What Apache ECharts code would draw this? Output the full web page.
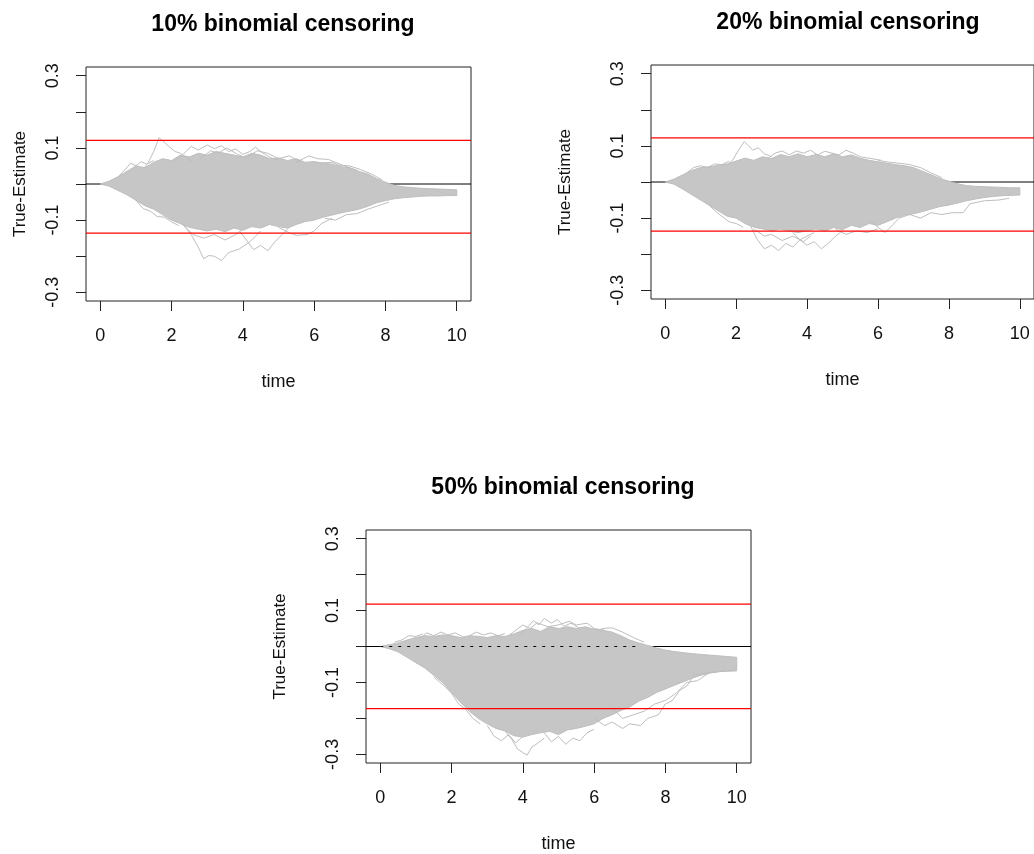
<!DOCTYPE html>
<html>
<head>
<meta charset="utf-8">
<script src="https://cdn.jsdelivr.net/npm/echarts@6/dist/echarts.min.js"></script>
<style>
  html, body { margin: 0; padding: 0; background: #fff; }
  #chart { width: 1034px; height: 854px; }
</style>
</head>
<body>
<div id="chart"></div>
<script>
// time grid the envelopes were read on
const envTime = [0, 0.25, 0.5, 0.75, 1, 1.25, 1.5, 1.75, 2, 2.25, 2.5, 2.75, 3, 3.25, 3.5, 3.75, 4, 4.25, 4.5, 4.75,
  5, 5.25, 5.5, 5.75, 6, 6.25, 6.5, 6.75, 7, 7.25, 7.5, 7.75, 8, 8.25, 8.5, 8.75, 9, 9.25, 9.5, 9.75, 10];

// 10% censoring: outer edge of the grey mass
const p1Upper = [0, 0.008, 0.02, 0.035, 0.05, 0.045, 0.06, 0.07, 0.065, 0.08, 0.075, 0.085, 0.08, 0.09, 0.085, 0.08, 0.075, 0.085, 0.08, 0.07,
  0.072, 0.065, 0.07, 0.06, 0.062, 0.058, 0.055, 0.048, 0.045, 0.035, 0.028, 0.015, 0.005, -0.004, -0.008, -0.01, -0.012, -0.013, -0.014, -0.015, -0.016];
const p1Lower = [0, -0.006, -0.018, -0.03, -0.045, -0.06, -0.07, -0.085, -0.1, -0.11, -0.12, -0.125, -0.13, -0.125, -0.132, -0.122, -0.128, -0.118, -0.122, -0.112,
  -0.118, -0.122, -0.112, -0.104, -0.1, -0.092, -0.086, -0.08, -0.075, -0.07, -0.062, -0.052, -0.046, -0.041, -0.038, -0.036, -0.034, -0.033, -0.033, -0.032, -0.032];
// single paths that stray out of the mass
const p1Strays = [
  [[1.2, 0.04], [1.35, 0.06], [1.5, 0.09], [1.65, 0.128], [1.8, 0.115], [1.97, 0.1], [2.1, 0.09], [2.25, 0.085], [2.45, 0.07], [2.6, 0.062]],
  [[2.0, 0.06], [2.3, 0.08], [2.55, 0.104], [2.75, 0.094], [3.0, 0.108], [3.2, 0.098], [3.4, 0.106], [3.6, 0.09], [3.8, 0.097], [4.0, 0.082], [4.2, 0.09], [4.35, 0.102], [4.55, 0.086], [4.8, 0.072], [5.0, 0.065]],
  [[2.8, 0.07], [3.1, 0.092], [3.3, 0.085], [3.55, 0.1], [3.85, 0.082], [4.1, 0.072], [4.4, 0.092], [4.7, 0.085], [5.0, 0.07], [5.3, 0.078], [5.6, 0.062]],
  [[5.5, 0.06], [5.85, 0.078], [6.1, 0.07], [6.4, 0.068], [6.8, 0.052], [7.2, 0.038]],
  [[0.5, 0.02], [0.7, 0.04], [0.85, 0.058], [1.0, 0.05], [1.15, 0.062], [1.3, 0.055], [1.5, 0.065]],
  [[6.2, 0.058], [6.5, 0.06], [6.7, 0.052], [7.0, 0.05], [7.3, 0.04], [7.6, 0.028], [7.9, 0.012]],
  [[2.3, -0.11], [2.55, -0.14], [2.75, -0.175], [2.9, -0.207], [3.05, -0.198], [3.2, -0.2], [3.4, -0.212], [3.6, -0.19], [3.9, -0.18], [4.2, -0.16], [4.5, -0.13]],
  [[3.9, -0.13], [4.1, -0.155], [4.3, -0.182], [4.5, -0.17], [4.7, -0.185], [4.9, -0.16], [5.1, -0.14], [5.3, -0.12]],
  [[5.0, -0.12], [5.3, -0.135], [5.5, -0.142], [5.8, -0.14], [6.0, -0.13], [6.2, -0.11], [6.5, -0.095]],
  [[2.3, -0.11], [2.6, -0.14], [2.9, -0.15], [3.2, -0.14], [3.5, -0.155], [3.8, -0.14], [4.0, -0.125]],
  [[1.0, -0.045], [1.2, -0.068], [1.4, -0.075], [1.6, -0.09], [1.8, -0.092], [2.0, -0.105], [2.2, -0.115]],
  [[6.3, -0.095], [6.6, -0.1], [6.9, -0.085], [7.2, -0.082], [7.5, -0.07], [7.8, -0.06], [8.1, -0.05]]
];
const p1Ref = [0.121, -0.136];

// 20% censoring
const p2Upper = [0, 0.008, 0.02, 0.032, 0.04, 0.042, 0.046, 0.05, 0.058, 0.066, 0.06, 0.07, 0.065, 0.076, 0.07, 0.078, 0.07, 0.076, 0.07, 0.078,
  0.07, 0.075, 0.066, 0.06, 0.056, 0.052, 0.048, 0.045, 0.04, 0.03, 0.02, 0.01, 0.002, -0.005, -0.01, -0.012, -0.013, -0.014, -0.015, -0.016, -0.016];
const p2Lower = [0, -0.006, -0.02, -0.035, -0.05, -0.065, -0.08, -0.095, -0.1, -0.115, -0.125, -0.13, -0.135, -0.13, -0.136, -0.14, -0.135, -0.13, -0.136, -0.126,
  -0.132, -0.12, -0.126, -0.115, -0.12, -0.11, -0.1, -0.092, -0.088, -0.082, -0.075, -0.068, -0.064, -0.058, -0.052, -0.047, -0.043, -0.04, -0.038, -0.037, -0.036];
const p2Strays = [
  [[1.7, 0.045], [1.9, 0.06], [2.08, 0.09], [2.23, 0.112], [2.35, 0.1], [2.47, 0.088], [2.62, 0.095], [2.8, 0.078], [3.0, 0.07]],
  [[2.9, 0.065], [3.1, 0.08], [3.3, 0.086], [3.5, 0.075], [3.7, 0.086], [3.9, 0.08], [4.1, 0.088], [4.3, 0.075], [4.5, 0.085], [4.7, 0.08], [4.9, 0.075], [5.1, 0.088], [5.3, 0.08], [5.5, 0.07], [5.8, 0.065], [6.1, 0.06]],
  [[0.6, 0.025], [0.8, 0.04], [1.0, 0.045], [1.2, 0.04], [1.4, 0.05], [1.6, 0.048], [1.8, 0.058]],
  [[6.0, 0.06], [6.3, 0.055], [6.6, 0.052], [6.9, 0.048], [7.2, 0.04], [7.5, 0.025], [7.8, 0.012]],
  [[2.4, -0.12], [2.6, -0.16], [2.8, -0.185], [3.0, -0.175], [3.2, -0.19], [3.4, -0.17], [3.6, -0.18], [3.8, -0.16], [4.0, -0.15], [4.2, -0.14]],
  [[3.6, -0.14], [3.8, -0.16], [4.0, -0.175], [4.2, -0.165], [4.4, -0.185], [4.6, -0.17], [4.8, -0.15], [5.0, -0.135]],
  [[2.5, -0.13], [2.8, -0.15], [3.0, -0.145], [3.3, -0.162], [3.6, -0.15], [3.9, -0.165], [4.1, -0.15]],
  [[1.2, -0.06], [1.4, -0.08], [1.6, -0.095], [1.8, -0.11], [2.0, -0.115], [2.2, -0.125]],
  [[4.8, -0.13], [5.1, -0.145], [5.4, -0.135], [5.7, -0.14], [6.0, -0.13]],
  [[5.8, -0.11], [6.0, -0.125], [6.2, -0.14], [6.4, -0.12], [6.6, -0.1], [6.9, -0.09], [7.2, -0.1], [7.5, -0.085], [7.8, -0.09], [8.1, -0.085], [8.4, -0.085], [8.6, -0.06], [9.0, -0.052], [9.4, -0.05], [9.7, -0.045]]
];
const p2Ref = [0.122, -0.136];

// 50% censoring
const p3Upper = [0, 0.005, 0.01, 0.018, 0.025, 0.03, 0.028, 0.032, 0.03, 0.025, 0.03, 0.028, 0.025, 0.03, 0.028, 0.035, 0.045, 0.05, 0.042, 0.055,
  0.05, 0.055, 0.05, 0.055, 0.048, 0.045, 0.04, 0.03, 0.018, 0.01, 0.003, -0.004, -0.01, -0.014, -0.017, -0.02, -0.022, -0.024, -0.026, -0.028, -0.03];
const p3Lower = [0, -0.006, -0.015, -0.03, -0.045, -0.06, -0.08, -0.1, -0.128, -0.155, -0.18, -0.2, -0.215, -0.228, -0.235, -0.248, -0.252, -0.245, -0.24, -0.236,
  -0.245, -0.232, -0.228, -0.222, -0.215, -0.2, -0.19, -0.178, -0.168, -0.152, -0.142, -0.128, -0.118, -0.108, -0.098, -0.088, -0.08, -0.074, -0.07, -0.067, -0.066];
const p3Strays = [
  [[3.9, 0.03], [4.1, 0.05], [4.3, 0.072], [4.45, 0.06], [4.6, 0.078], [4.8, 0.065], [4.97, 0.075], [5.15, 0.056], [5.35, 0.065], [5.6, 0.05]],
  [[3.6, 0.03], [3.8, 0.045], [4.0, 0.06], [4.2, 0.05], [4.4, 0.066], [4.7, 0.055], [5.0, 0.06], [5.3, 0.07], [5.5, 0.06], [5.8, 0.065], [6.0, 0.05], [6.3, 0.045]],
  [[1.1, 0.02], [1.3, 0.038], [1.5, 0.03], [1.7, 0.04], [1.9, 0.032], [2.1, 0.038], [2.3, 0.028]],
  [[0.4, 0.012], [0.6, 0.018], [0.8, 0.03], [1.0, 0.028], [1.2, 0.035]],
  [[2.5, 0.03], [2.7, 0.04], [2.9, 0.032], [3.1, 0.038], [3.3, 0.03], [3.5, 0.036]],
  [[6.2, 0.05], [6.5, 0.052], [6.8, 0.04], [7.1, 0.025], [7.4, 0.012]],
  [[1.5, -0.085], [1.8, -0.11], [2.0, -0.13], [2.2, -0.16], [2.4, -0.175], [2.6, -0.2], [2.8, -0.215]],
  [[3.5, -0.235], [3.7, -0.26], [3.85, -0.285], [4.0, -0.295], [4.12, -0.302], [4.25, -0.28], [4.4, -0.27], [4.6, -0.255]],
  [[3.0, -0.22], [3.2, -0.25], [3.4, -0.262], [3.6, -0.245], [3.8, -0.268], [4.0, -0.25]],
  [[4.6, -0.24], [4.8, -0.265], [5.0, -0.25], [5.2, -0.272], [5.4, -0.255], [5.6, -0.262], [5.8, -0.24], [6.0, -0.23]],
  [[6.0, -0.2], [6.3, -0.22], [6.5, -0.21], [6.8, -0.228], [7.0, -0.215], [7.3, -0.22], [7.5, -0.2], [7.8, -0.19], [8.0, -0.16], [8.2, -0.15], [8.4, -0.122], [8.6, -0.11], [8.8, -0.08], [9.0, -0.075], [9.5, -0.07], [10, -0.068]],
  [[6.5, -0.17], [6.8, -0.2], [7.1, -0.19], [7.4, -0.18], [7.7, -0.16], [8.0, -0.15], [8.3, -0.13], [8.6, -0.1], [8.9, -0.095], [9.2, -0.075]]
];
const p3Ref = [0.118, -0.173];

const titles = ['10% binomial censoring', '20% binomial censoring', '50% binomial censoring'];
const xTicks = [0, 2, 4, 6, 8, 10];
const yTicks = [-0.3, -0.2, -0.1, 0, 0.1, 0.2, 0.3];
const yLabels = [-0.3, -0.1, 0.1, 0.3];

const FONT = 'Liberation Sans, Arial, sans-serif';
const GRAY = '#BEBEBE';
const X_MIN = -0.4, X_MAX = 10.4;

const panels = [
  { upper: p1Upper, lower: p1Lower, strays: p1Strays, ref: p1Ref, box: { left: 86, top: 67 }, yGap: 57, titleX: 278, titleY: 8 },
  { upper: p2Upper, lower: p2Lower, strays: p2Strays, ref: p2Ref, box: { left: 651, top: 65 }, yGap: 77, titleX: 843, titleY: 6 },
  { upper: p3Upper, lower: p3Lower, strays: p3Strays, ref: p3Ref, box: { left: 366, top: 530 }, yGap: 77, titleX: 558, titleY: 471, dashedZero: [0, 7.3] }
];

const chart = echarts.init(document.getElementById('chart'), null, { renderer: 'canvas' });

const grid = [], xAxis = [], yAxis = [], series = [], title = [];

panels.forEach((p, i) => {
  grid.push({
    left: p.box.left, top: p.box.top, width: 385, height: 234,
    show: true, borderColor: '#222', borderWidth: 1, backgroundColor: '#fff'
  });

  title.push({
    text: titles[i], left: p.titleX, top: p.titleY, textAlign: 'center',
    textStyle: { fontFamily: FONT, fontSize: 23, fontWeight: 'bold', color: '#000' }
  });

  xAxis.push({
    gridIndex: i, type: 'value', min: X_MIN, max: X_MAX,
    axisLine: { show: false, onZero: false },
    splitLine: { show: false },
    axisTick: { show: true, customValues: xTicks, length: 10, inside: false, lineStyle: { color: '#222' } },
    axisLabel: { customValues: xTicks, fontFamily: FONT, fontSize: 18, color: '#111', margin: 26 },
    name: 'time', nameLocation: 'middle', nameGap: 72,
    nameTextStyle: { fontFamily: FONT, fontSize: 18, color: '#111' }
  });

  yAxis.push({
    gridIndex: i, type: 'value', min: -0.324, max: 0.324,
    axisLine: { show: false, onZero: false },
    splitLine: { show: false },
    axisTick: { show: true, customValues: yTicks, length: 10, inside: false, lineStyle: { color: '#222' } },
    axisLabel: { customValues: yLabels, rotate: 90, fontFamily: FONT, fontSize: 18, color: '#111', margin: 24 },
    name: 'True-Estimate', nameLocation: 'middle', nameGap: p.yGap,
    nameTextStyle: { fontFamily: FONT, fontSize: 17, color: '#111' }
  });

  // abline(h = 0), drawn first so the grey paths sit on top
  series.push({
    type: 'line', xAxisIndex: i, yAxisIndex: i, z: 1, silent: true, showSymbol: false,
    data: [[X_MIN, 0], [X_MAX, 0]],
    lineStyle: { color: '#000', width: 1 }
  });

  // the dense bundle of grey paths, as one outline
  const outline = envTime.map((t, k) => [t, p.upper[k]])
    .concat(envTime.map((t, k) => [t, p.lower[k]]).reverse());
  series.push({
    type: 'custom', xAxisIndex: i, yAxisIndex: i, z: 2, silent: true,
    data: outline,
    renderItem: (params, api) => {
      if (params.dataIndex !== 0) return null;
      return {
        type: 'polygon',
        shape: { points: outline.map((pt) => api.coord(pt)) },
        style: { fill: '#C6C6C6', stroke: GRAY, lineWidth: 1 }
      };
    }
  });

  p.strays.forEach((path) => {
    series.push({
      type: 'line', xAxisIndex: i, yAxisIndex: i, z: 3, silent: true, showSymbol: false,
      data: path,
      lineStyle: { color: GRAY, width: 1 }
    });
  });

  if (p.dashedZero) {
    series.push({
      type: 'line', xAxisIndex: i, yAxisIndex: i, z: 4, silent: true, showSymbol: false,
      data: [[p.dashedZero[0], 0], [p.dashedZero[1], 0]],
      lineStyle: { color: '#000', width: 1, type: [3, 6] }
    });
  }

  // red bounds
  p.ref.forEach((v) => {
    series.push({
      type: 'line', xAxisIndex: i, yAxisIndex: i, z: 5, silent: true, showSymbol: false,
      data: [[X_MIN, v], [X_MAX, v]],
      lineStyle: { color: '#FF0000', width: 1.2 }
    });
  });
});

chart.setOption({
  animation: false,
  backgroundColor: '#fff',
  title, grid, xAxis, yAxis, series
});
</script>
</body>
</html>
